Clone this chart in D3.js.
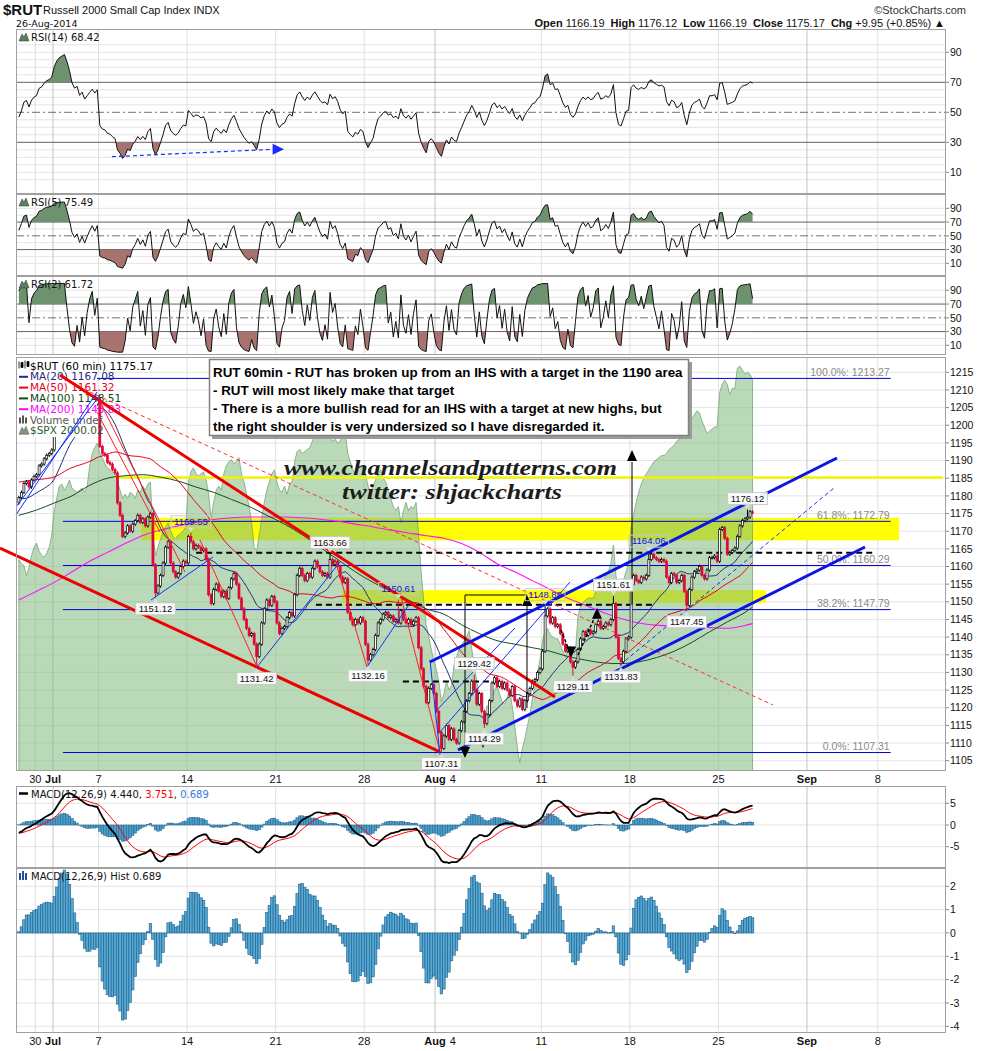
<!DOCTYPE html>
<html><head><meta charset="utf-8">
<script src="https://cdn.jsdelivr.net/npm/d3@7"></script>
<style>body{margin:0;background:#fff}svg{display:block}</style>
</head><body>
<svg id="c" width="990" height="1051"></svg>
<script>
// ---------------- DATA ----------------
// hourly closes before the visible window (Jun 18 - Jun 26), used only to warm up indicators
const priorClose = [
1176,1177.5,1178,1177,1179,1182,1183,
1185,1186,1185.5,1187,1186,1187.5,1188,
1188.5,1189,1190,1189.5,1190,1190.5,1191,
1192,1191.5,1193,1192,1191,1190.5,1191,
1190,1188,1186,1184,1181,1178,1177,
1176,1178,1179.5,1181,1182.5,1181,1183,
1180,1177.5,1176,1175.5,1177,1178,1179.5];
const rutOpen0 = 1178;
// RUT 60-min closes, Jun 27 - Aug 26 2014
const rutClose = [
1179.5,1181,1183.5,1184,1182.5,1184.5,1185.5,
1186,1188.5,1189,1190.5,1191.5,1192,1193,
1199,1204,1208,1210,1212.5,1211,1209,
1206,1204.5,1205.5,1203,1204.5,1202.5,1204,
1205.5,1207,1206,1207.5,
1194,1192,1191.5,1189.5,1189,1187.5,1186.5,
1178,1174.5,1168.5,1169.5,1171.5,1170,1172,
1173,1174.5,1172.5,1173.5,1171.5,1174,1175,
1160.5,1152.5,1154.5,1157.5,1161,1165.5,1167,
1161,1158.5,1157,1158,1160,1161.5,1161,
1168.5,1167,1165,1166,1165.5,1164.5,1165,
1162,1152,1149.5,1153.5,1155,1153,1151.5,
1153,1151,1154,1156.5,1158,1155,1151,
1148,1145,1142.5,1140.5,1141,1138,1134.5,
1138,1144,1148,1150.5,1149,1151.5,1150,
1144,1141,1142.5,1143,1145.5,1147,1146,
1152,1157.5,1159.5,1157.5,1156,1158,1157,
1159.5,1161.5,1160,1158.5,1157.5,1158,1157,
1162,1160.5,1161.5,1160,1157,1155.5,1156.5,
1147,1145,1143.5,1145,1144,1145.5,1144.5,
1138,1133.5,1135,1136.5,1140.5,1144,1145,
1146.5,1147,1145.5,1146,1144.5,1145,1144,
1147.5,1145,1144,1145,1143.5,1144.5,1145.5,
1137,1131,1126,1121.5,1125.5,1126.5,1124,
1119,1113,1108.5,1112,1115,1111,1114,
1111,1110,1113.5,1116,1119,1122,1124,
1127.5,1125,1121,1124,1119,1115.5,1118,
1122,1127,1128.5,1126,1127.5,1125.5,1127,
1125,1123.5,1126,1122,1120.5,1122.5,1119.5,
1122,1124,1125.5,1127.5,1128,1130,1131,
1136,1146,1148,1144,1145.5,1143,1143.5,
1141,1138,1136,1137,1133,1131.5,1133,
1136.5,1139.5,1141.5,1140.5,1142,1141,1141.5,
1143.5,1144.5,1142.5,1143,1144,1143.5,1145,
1149.5,1140,1134,1133,1136,1139.5,1140,
1155,1157.5,1156,1155.5,1157,1156.5,1157.5,
1162,1163.5,1162.5,1162,1161.5,1162,1161.5,
1157,1155.5,1158,1157.5,1155.5,1156,1157.5,
1153,1149,1153.5,1157,1158.5,1159,1160,
1157.5,1156.5,1159,1162.5,1162.5,1163,1161.5,
1170.5,1171,1168,1163.5,1164,1164.5,1165.22,
1168.5,1171.5,1173,1173.5,1174,1175.5,1175.17];
// $SPX overlay (60-min closes)
const spxClose = [
1956,1955,1954.5,1952,1954,1957,1959,
1960,1958,1957,1956.5,1957.5,1959,1962,
1968,1971,1974,1974.5,1973,1974,1975.5,
1973.5,1973,1972.5,1973,1973.5,1972.5,1974,
1979,1982,1983.5,1984.5,
1982,1981,1979.5,1978.5,1978,1977.5,1977,
1975,1973,1971,1972,1971,1972.5,1972,
1971,1973,1972.5,1974,1973,1974.5,1975,
1962,1957,1959,1961,1963,1964,1965,
1963,1961.5,1961,1962,1962.5,1963,1964,
1975,1977.5,1978.5,1977,1976.5,1977,1977.5,
1975.5,1972,1966,1970,1973,1974,1973,
1977,1979,1980,1980.5,1979.5,1980,1981,
1977,1975,1972,1969,1965,1959,1958,
1962,1966,1970,1973,1975,1977,1978,
1975,1973,1972.5,1974,1972,1974.5,1975,
1980,1982.5,1983,1982,1982.5,1983,1983.5,
1985,1986.5,1986,1985.5,1986,1987,1987.5,
1986,1985,1985.5,1984.5,1985,1986.5,1987.5,
1982,1980,1978,1977,1979,1978.5,1978.5,
1977,1974,1972.5,1974,1975.5,1977,1978,
1976,1975,1973,1971,1969,1968,1969,
1965,1968,1970,1968,1969,1968.5,1970,
1962,1953,1946,1940,1937,1934,1931,
1929,1926,1921,1923,1926,1924,1925,
1930,1932,1934,1935,1936,1937,1938.5,
1934,1930,1926,1922,1918,1916,1920,
1920,1922,1924,1925,1923,1921,1920.5,
1922,1924,1920,1915,1910,1906,1909.5,
1912,1915,1918,1922,1925,1928,1931.5,
1936,1938.5,1939,1937.5,1937,1936.5,1936.5,
1935,1933.5,1932,1934,1933,1932.5,1933.5,
1942,1944.5,1945.5,1946,1946.5,1946.5,1946.5,
1948,1949.5,1950.5,1951,1952,1953,1955,
1959.5,1952,1948.5,1949,1951,1953,1955,
1964,1967,1970,1972.5,1974.5,1976,1977,
1978,1979,1980,1980.5,1981,1981.5,1981.5,
1982,1983,1983.5,1984,1985,1985.5,1986,
1987,1988,1989.5,1990.5,1991.5,1992.5,1992,
1990,1988.5,1987,1987.5,1988,1988.5,1988.5,
1997,1999,2000,1999,1996.5,1998,1998,
2003,2003.5,2002.5,2001.5,2002,2001.5,2000];
// MA(100) and MA(200), [bar, value]
const ma100Samples = [[0,1174.5],[7,1176],[14,1178],[21,1180],[28,1183],[35,1185],[42,1185.7],[49,1186],[56,1185.3],[63,1184.2],[70,1182.5],[77,1181],[84,1179],[91,1177],[98,1174.5],[105,1172],[112,1169],[119,1165.5],[126,1162],[133,1158.5],[140,1155.5],[147,1153],[154,1150.5],[161,1148],[168,1146.5],[175,1143.5],[182,1141],[189,1139],[196,1138],[203,1137],[210,1136],[217,1134.5],[224,1133.5],[231,1132.7],[238,1132.5],[245,1133],[252,1134.2],[259,1136],[266,1138.5],[273,1141.5],[280,1144.3],[287,1147],[290,1148.51]];
const ma200Samples = [[0,1150.5],[7,1153],[14,1155.5],[21,1158.5],[28,1161.5],[35,1164],[42,1166.5],[49,1168.8],[56,1170.3],[63,1171.5],[70,1172.5],[77,1173.3],[84,1173.8],[91,1174],[98,1174],[105,1174],[112,1173.8],[119,1173.4],[126,1172.8],[133,1172],[140,1171.2],[147,1170.3],[154,1169.5],[161,1168.7],[168,1168],[175,1166.5],[182,1164],[189,1160.8],[196,1158.5],[203,1156],[210,1153.5],[217,1151],[224,1149],[231,1147],[238,1145.3],[245,1144],[252,1143.4],[259,1143.2],[266,1143],[273,1142.7],[280,1142.5],[287,1143.3],[290,1143.83]];
// labelled pivots
const pivots = [
 {bar:68,p:1169.55,s:"H",blue:1},{bar:54,p:1151.12,s:"L"},{bar:123,p:1163.66,s:"H"},{bar:94,p:1131.42,s:"L"},
 {bar:150,p:1150.61,s:"H",blue:1},{bar:138,p:1132.16,s:"L"},{bar:208,p:1148.89,s:"H",blue:1},{bar:180,p:1129.42,s:"H"},
 {bar:167,p:1107.31,s:"L"},{bar:184,p:1114.29,s:"L"},{bar:219,p:1129.11,s:"L"},{bar:235,p:1151.61,s:"H"},
 {bar:238,p:1131.83,s:"L"},{bar:249,p:1164.06,s:"H",blue:1},{bar:264,p:1147.45,s:"L"},{bar:288,p:1176.12,s:"H"}];
const fibPct = ["100.0%","61.8%","50.0%","38.2%","0.0%"];
const fibVal = [1213.27,1172.79,1160.29,1147.79,1107.31];
const fibSpan = [17.9,345.1];
const bands = [[48.8,348.4,1167.4,1173.8],[128.2,295.8,1149.7,1153.3]];
const yellowLine = [38.1,365.8,1185.2];
const dashLevels = [[70.6,339.3,1163.9],[117.9,251.9,1149.2],[152.3,190.7,1127.4]];
// trend lines: b1,p1,b2,p2,color,width,dash
const trendLines = [
 [16.76,1214.24,212.41,1123.04,"#ee0000",3,null],
 [-6.96,1165.24,166.96,1107.47,"#ee0000",3,null],
 [31.38,1203.76,56.28,1169.77,"#ff2020",1,null],
 [32.17,1207.16,66.17,1158.44,"#ff2020",1,null],
 [72.09,1167.51,94.62,1131.54,"#ff2020",1,null],
 [125.45,1161.84,138.10,1131.54,"#ff2020",1,null],
 [151.15,1152.5,166.96,1107.47,"#ff2020",1,null],
 [28.62,1209.42,298.58,1120.78,"#ff3030",1,"4,3"],
 [-0.63,1174.59,31.38,1209.42,"#1030ff",1,null],
 [-0.63,1176.85,32.57,1208.57,"#1030ff",1,null],
 [52.73,1150.51,77.23,1162.69,"#1030ff",1,null],
 [94.62,1131.54,127.43,1161.28,"#1030ff",1,null],
 [138.10,1131.54,154.31,1148.81,"#1030ff",1,null],
 [166.96,1113.13,218.34,1155.61,"#1030ff",1,null],
 [164.98,1118.8,196.6,1142.58,"#1030ff",1,null],
 [163.0,1133.52,166.96,1106.62,"#1030ff",1,null],
 [238.1,1132.11,322.69,1182.23,"#1030ff",1,"4,3"],
 [163.0,1132.95,323.87,1190.73,"#0a14e6",3,null],
 [174.07,1108.03,334.94,1165.52,"#0a14e6",3,null],
 [176.84,1151.93,201.34,1151.93,"#000",1,null],
 [176.84,1151.93,176.84,1108.6,"#000",1,null],
 [201.34,1119.93,201.34,1149.1,"#000",1,null],
 [242.85,1149.1,242.85,1189.6,"#000",1,null],
 [214.78,1142.02,218.74,1134.94,"#000",1.5,"3,2"],
 [221.5,1134.94,229.01,1147.12,"#000",1.5,"3,2"]];
// arrow heads: bar, tip price, direction
const arrowHeads = [[176.84,1105.77,"down"],[183.95,1108.6,"down"],[201.34,1151.93,"up"],[242.85,1193.0,"up"],[218.74,1134.2,"down"],[229.01,1148.3,"up"]];
// RSI(14) divergence arrow: bar, rsi
const rsiArrow = [[37.3,20.4],[100.8,25.3],[105.3,25.3]];
// x axis
const dateTicks = [{b:7,t:"30"},{b:14,t:"Jul",m:1},{b:32,t:"7"},{b:67,t:"14"},{b:102,t:"21"},{b:137,t:"28"},{b:165,t:"Aug",m:1},{b:172,t:"4"},{b:207,t:"11"},{b:242,t:"18"},{b:277,t:"25"},{b:312,t:"Sep",m:1},{b:340,t:"8"}];
const gridBars = [7,14,32,67,102,137,165,207,242,277,312,340];
const monthBars = [14,165,312];
const priceTicks = [1105,1110,1115,1120,1125,1130,1135,1140,1145,1150,1155,1160,1165,1170,1175,1180,1185,1190,1195,1200,1205,1210,1215];
const rsiTicks = [90,70,50,30,10];
const macdTicks = [5,0,-5];
const histTicks = [2,1,0,-1,-2,-3,-4];
const legendMain = [["$RUT (60 min) 1175.17","#000","candle"],["MA(20) 1167.08","#1f2a80","line"],["MA(50) 1161.32","#e8001c","line"],["MA(100) 1148.51","#0c4a0c","line"],["MA(200) 1143.83","#ff00ff","line"],["Volume undef","#555","bars"],["$SPX 2000.02","#2b5b2b","area"]];
const rsiLegend = ["RSI(14) 68.42","RSI(5) 75.49","RSI(2) 61.72"];
const macdLegend = ["4.440","3.751","0.689"];
const ohlc = [["Open","1166.19"],["High","1176.12"],["Low","1166.19"],["Close","1175.17"],["Chg","+9.95 (+0.85%)"]];
const noteLines = ["RUT 60min - RUT has broken up from an IHS with a target in the 1190 area","- RUT will most likely make that target","- There is a more bullish read for an IHS with a target at new highs, but","the right shoulder is very undersized so I have disregarded it."];

// ---------------- INDICATORS ----------------
const full = priorClose.concat(rutClose);
const off = priorClose.length;
function sma(arr,n,i){let s=0;for(let k=i-n+1;k<=i;k++)s+=arr[k];return s/n;}
function rsiCalc(arr,n){const out=new Array(arr.length).fill(null);let g=0,l=0;
 for(let i=1;i<=n;i++){const d=arr[i]-arr[i-1];if(d>0)g+=d;else l-=d;}g/=n;l/=n;
 out[n]=l===0?100:100-100/(1+g/l);
 for(let i=n+1;i<arr.length;i++){const d=arr[i]-arr[i-1];g=(g*(n-1)+Math.max(d,0))/n;l=(l*(n-1)+Math.max(-d,0))/n;out[i]=l===0?100:100-100/(1+g/l);}return out;}
function ema(arr,n){const k=2/(n+1);let e=arr[0];return arr.map((v,i)=>(e=i===0?v:v*k+e*(1-k)));}
const ma20 = rutClose.map((c,i)=>sma(full,20,i+off));
const ma50 = rutClose.map((c,i)=>sma(full,50,i+off));
const r14 = rsiCalc(full,14).slice(off), r5 = rsiCalc(full,5).slice(off), r2 = rsiCalc(full,2).slice(off);
const e12 = ema(full,12), e26 = ema(full,26);
const macdFull = e12.map((v,i)=>v-e26[i]);
const sigFull = ema(macdFull,9);
const macd = macdFull.slice(off), sig = sigFull.slice(off);
const hist = macd.map((v,i)=>v-sig[i]);

// ---------------- SCALES ----------------
const svg = d3.select("#c");
const L=16,R=946,BW=2.53;
const x = d3.scaleLinear().domain([0,367]).range([17.6,17.6+367*BW]);
const cx = i=>x(i)+BW/2;
const P = {r14:[29,194],r5:[194,276],r2:[276,355],main:[357,771],macd:[786,868],hist:[868,1033]};
const yP = d3.scaleLinear().domain([1105,1215]).range([760.7,372.3]);
const yS = d3.scaleLinear().domain([1906,2003.5]).range([763,366]);
const yR14 = d3.scaleLinear().domain([0,100]).range([187.3,37.3]);
const yR5 = d3.scaleLinear().domain([0,100]).range([270.2,201.45]);
const yR2 = d3.scaleLinear().domain([0,100]).range([352.2,283.45]);
const yM = d3.scaleLinear().domain([-5,5]).range([846.7,803.3]);
const yH = d3.scaleLinear().domain([-4,2]).range([1026.3,886.3]);
const SANS="'DejaVu Sans',Verdana,sans-serif", ARI="'Liberation Sans',Arial,sans-serif";

const defs = svg.append("defs");
Object.entries(P).forEach(([k,[t,b]])=>{defs.append("clipPath").attr("id","cp-"+k).append("rect").attr("x",L).attr("y",t).attr("width",R-L).attr("height",b-t);});

function panelBase(key, ticks, yS_, light){
  const [t,b]=P[key];
  const g=svg.append("g");
  light.forEach(v=>g.append("line").attr("x1",L).attr("x2",R).attr("y1",yS_(v)).attr("y2",yS_(v)).attr("stroke","#e4e4e4"));
  gridBars.forEach(bb=>g.append("line").attr("x1",x(bb)).attr("x2",x(bb)).attr("y1",t).attr("y2",b).attr("stroke",monthBars.includes(bb)?"#c4c4c4":"#e0e0e0"));
  ticks.forEach(v=>{g.append("line").attr("x1",R).attr("x2",R+3).attr("y1",yS_(v)).attr("y2",yS_(v)).attr("stroke","#888");
    g.append("text").attr("x",R+4).attr("y",yS_(v)).attr("dy","0.35em").attr("font-family",ARI).attr("font-size",10.5).attr("fill","#111").text(v);});
  return g;
}
function frame(key){const [t,b]=P[key];svg.append("rect").attr("x",L+0.5).attr("y",t+0.5).attr("width",R-L-1).attr("height",b-t-1).attr("fill","none").attr("stroke","#a0a0a0");}

// ---------------- HEADER ----------------
svg.append("text").attr("x",3).attr("y",15).attr("font-family",ARI).attr("font-weight","bold").attr("font-size",15).attr("fill","#111").text("$RUT");
svg.append("text").attr("x",43).attr("y",14).attr("font-family",ARI).attr("font-size",11).attr("fill","#111").text("Russell 2000 Small Cap Index  INDX");
svg.append("text").attr("x",966).attr("y",14).attr("text-anchor","end").attr("font-family",ARI).attr("font-size",11).attr("fill","#333").text("©StockCharts.com");
svg.append("text").attr("x",16).attr("y",27).attr("font-family",SANS).attr("font-size",9.5).attr("fill","#111").text("26-Aug-2014");
{const t=svg.append("text").attr("x",945).attr("y",27).attr("text-anchor","end").attr("font-family",ARI).attr("font-size",11).attr("fill","#111");
 ohlc.forEach(([a,b],k)=>{t.append("tspan").attr("font-weight","bold").attr("dx",k?6:0).text(a);t.append("tspan").attr("dx",3).text(b);});
 t.append("tspan").attr("dx",3).text("▲");}

// ---------------- RSI PANELS ----------------
function rsiPanel(key,data,ys,legend,light){
  const [t,b]=P[key];
  const g=panelBase(key,rsiTicks,ys,light);
  g.append("line").attr("x1",L).attr("x2",R).attr("y1",ys(70)).attr("y2",ys(70)).attr("stroke","#606060");
  g.append("line").attr("x1",L).attr("x2",R).attr("y1",ys(30)).attr("y2",ys(30)).attr("stroke","#606060");
  g.append("line").attr("x1",L).attr("x2",R).attr("y1",ys(50)).attr("y2",ys(50)).attr("stroke","#707070").attr("stroke-dasharray","8,3,2,3");
  const cA="ca-"+key, cB="cb-"+key;
  defs.append("clipPath").attr("id",cA).append("rect").attr("x",L).attr("y",t).attr("width",R-L).attr("height",ys(70)-t);
  defs.append("clipPath").attr("id",cB).append("rect").attr("x",L).attr("y",ys(30)).attr("width",R-L).attr("height",b-ys(30));
  const idx=d3.range(data.length);
  svg.append("path").attr("clip-path",`url(#${cA})`).attr("fill","#6e916e").attr("d",d3.area().x(i=>cx(i)).y0(ys(70)).y1(i=>ys(data[i]))(idx));
  svg.append("path").attr("clip-path",`url(#${cB})`).attr("fill","#a8736f").attr("d",d3.area().x(i=>cx(i)).y0(ys(30)).y1(i=>ys(data[i]))(idx));
  svg.append("path").attr("fill","none").attr("stroke","#111").attr("stroke-width",1).attr("d",d3.line().x(i=>cx(i)).y(i=>ys(data[i]))(idx));
  svg.append("path").attr("d",`M19,${t+12}l3,-7l2,3l2,-4l3,8z`).attr("fill","#5c805c").attr("stroke","#333").attr("stroke-width",0.5);
  svg.append("text").attr("x",31).attr("y",t+11.5).attr("font-family",SANS).attr("font-size",10).attr("fill","#111").text(legend);
  frame(key);
}
rsiPanel("r14",r14,yR14,rsiLegend[0],[5,10,15,20,25,35,40,45,55,60,65,75,80,85,90,95]);
rsiPanel("r5",r5,yR5,rsiLegend[1],[10,20,40,60,80,90]);
rsiPanel("r2",r2,yR2,rsiLegend[2],[10,20,40,60,80,90]);
// divergence arrow
svg.append("line").attr("x1",x(rsiArrow[0][0])).attr("y1",yR14(rsiArrow[0][1])).attr("x2",x(rsiArrow[1][0])).attr("y2",yR14(rsiArrow[1][1])).attr("stroke","#1a2cff").attr("stroke-width",1.2).attr("stroke-dasharray","4,3");
svg.append("path").attr("fill","#1a2cff").attr("d",`M${x(rsiArrow[1][0])},${yR14(rsiArrow[1][1])-5.5}L${x(rsiArrow[2][0])},${yR14(rsiArrow[2][1])}L${x(rsiArrow[1][0])},${yR14(rsiArrow[1][1])+5.5}Z`);

// ---------------- MAIN PANEL ----------------
panelBase("main",priceTicks,yP,priceTicks);
const mg=svg.append("g").attr("clip-path","url(#cp-main)");
bands.forEach(([b1,b2,p1,p2])=>mg.append("rect").attr("x",x(b1)).attr("width",x(b2)-x(b1)).attr("y",yP(p2)).attr("height",yP(p1)-yP(p2)).attr("fill","#ffff00"));
const idx=d3.range(spxClose.length);
mg.append("path").attr("fill","rgb(128,186,128)").attr("fill-opacity",0.55).attr("stroke","rgb(120,165,120)").attr("stroke-width",0.8)
  .attr("d",d3.area().x(i=>cx(i)).y0(P.main[1]).y1(i=>yS(spxClose[i]))(idx));
mg.append("line").attr("x1",x(yellowLine[0])).attr("x2",x(yellowLine[1])).attr("y1",yP(yellowLine[2])).attr("y2",yP(yellowLine[2])).attr("stroke","#f4f400").attr("stroke-width",2.5);
// fib lines
fibVal.forEach((v,k)=>{mg.append("line").attr("x1",x(fibSpan[0])).attr("x2",x(fibSpan[1])).attr("y1",yP(v)).attr("y2",yP(v)).attr("stroke","#0000dd").attr("stroke-width",1);
  mg.append("text").attr("x",x(fibSpan[1])-1).attr("y",yP(v)-2.5).attr("text-anchor","end").attr("font-family",ARI).attr("font-size",10.5).attr("fill","#8a8a8a").text(`${fibPct[k]}: ${v.toFixed(2)}`);});
// MAs
const lineS=d3.line().curve(d3.curveMonotoneX);
mg.append("path").attr("fill","none").attr("stroke","#ff10ff").attr("stroke-width",1.1).attr("d",lineS(ma200Samples.map(([b,v])=>[cx(b),yP(v)])));
mg.append("path").attr("fill","none").attr("stroke","#1c4a1c").attr("stroke-width",1).attr("d",lineS(ma100Samples.map(([b,v])=>[cx(b),yP(v)])));
mg.append("path").attr("fill","none").attr("stroke","#e8001c").attr("stroke-width",1).attr("d",d3.line()(ma50.map((v,i)=>[cx(i),yP(v)])));
mg.append("path").attr("fill","none").attr("stroke","#28307a").attr("stroke-width",1).attr("d",d3.line()(ma20.map((v,i)=>[cx(i),yP(v)])));
// dashed black levels
dashLevels.forEach(([b1,b2,p])=>mg.append("line").attr("x1",x(b1)).attr("x2",x(b2)).attr("y1",yP(p)).attr("y2",yP(p)).attr("stroke","#000").attr("stroke-width",2).attr("stroke-dasharray","6,4"));
// candles
const pv={};pivots.forEach(d=>pv[d.bar]=d);
rutClose.forEach((c,i)=>{
  const o=i===0?rutOpen0:rutClose[i-1];
  let hi=Math.max(o,c)+0.5, lo=Math.min(o,c)-0.5;
  if(pv[i]){if(pv[i].s==="H")hi=Math.max(hi,pv[i].p);else lo=Math.min(lo,pv[i].p);}
  const up=c>=o, col=up?"#000":"#dc0a36";
  mg.append("line").attr("x1",cx(i)).attr("x2",cx(i)).attr("y1",yP(hi)).attr("y2",yP(lo)).attr("stroke",col).attr("stroke-width",1);
  const y1=yP(Math.max(o,c)), h=Math.max(1,yP(Math.min(o,c))-y1);
  mg.append("rect").attr("x",cx(i)-1).attr("width",2).attr("y",y1).attr("height",h).attr("fill",up?"#fff":col).attr("stroke",col).attr("stroke-width",0.7);
});
// legend background + legend
svg.append("rect").attr("x",L+1).attr("y",P.main[0]+1).attr("width",80).attr("height",79).attr("fill","#fff");
legendMain.forEach(([t,c,ic],k)=>{
  const yy=369.5+k*10.8;
  if(ic==="line")svg.append("line").attr("x1",19).attr("x2",28).attr("y1",yy-3.5).attr("y2",yy-3.5).attr("stroke",c).attr("stroke-width",2);
  else if(ic==="candle"){svg.append("path").attr("d",`M19,${yy-8}v7M21,${yy-7}h2v5h-2zM25,${yy-9}v8M27,${yy-8}h2v5h-2z`).attr("stroke","#000").attr("fill","#000").attr("stroke-width",0.8);}
  else if(ic==="bars"){[0,3,6].forEach((d,j)=>svg.append("rect").attr("x",19+d).attr("y",yy-6-j%2*2).attr("width",2).attr("height",6+j%2*2).attr("fill","#555"));}
  else svg.append("path").attr("d",`M19,${yy}l3,-7l2,3l2,-4l3,8z`).attr("fill","#7f977f").attr("stroke","#555").attr("stroke-width",0.5);
  svg.append("text").attr("x",30).attr("y",yy).attr("font-family",SANS).attr("font-size",10.5).attr("fill",c).text(t);
});
// watermark
svg.append("text").attr("x",284).attr("y",475).attr("font-family","'Liberation Serif','DejaVu Serif',serif").attr("font-style","italic").attr("font-weight","bold").attr("font-size",21).attr("fill","#1c1c1c").attr("textLength",333).attr("lengthAdjust","spacingAndGlyphs").text("www.channelsandpatterns.com");
svg.append("text").attr("x",342).attr("y",499).attr("font-family","'Liberation Serif','DejaVu Serif',serif").attr("font-style","italic").attr("font-weight","bold").attr("font-size",21).attr("fill","#1c1c1c").attr("textLength",220).attr("lengthAdjust","spacingAndGlyphs").text("twitter: shjackcharts");
// trend lines
const ag=svg.append("g");
trendLines.forEach(([b1,p1,b2,p2,col,w,dash])=>{const l=ag.append("line").attr("x1",x(b1)).attr("y1",yP(p1)).attr("x2",x(b2)).attr("y2",yP(p2)).attr("stroke",col).attr("stroke-width",w);if(dash)l.attr("stroke-dasharray",dash);});
arrowHeads.forEach(([b,p,d])=>{const X=x(b),Y=yP(p),s=d==="up"?1:-1;ag.append("path").attr("fill","#000").attr("d",`M${X},${Y}L${X-5},${Y+s*11}L${X+5},${Y+s*11}Z`);});
// pivot labels
pivots.forEach(d=>{
  const X=cx(d.bar), py=yP(d.p), Y=d.s==="H"?py-11:py+11;
  const g=svg.append("g");
  const t=g.append("text").attr("x",X).attr("y",Y).attr("dy","0.35em").attr("text-anchor","middle").attr("font-family",ARI).attr("font-size",9.5).attr("fill",d.blue?"#1010e0":"#111").text(d.p.toFixed(2));
  const w=t.node().getComputedTextLength()+6;
  g.insert("rect","text").attr("x",X-w/2).attr("y",Y-6).attr("width",w).attr("height",12).attr("fill",d.blue?"none":"#fff").attr("fill-opacity",0.92).attr("stroke","#c8c8c8");
  const ty=d.s==="H"?Y+6:Y-6, s=d.s==="H"?1:-1;
  g.insert("path","text").attr("d",`M${X-3},${ty}L${X},${ty+s*4}L${X+3},${ty}Z`).attr("fill","#ddd");
});
// note box
svg.append("rect").attr("x",212).attr("y",362).attr("width",480).attr("height",77).attr("fill","#9a9a9a");
svg.append("rect").attr("x",209.5).attr("y",359.5).attr("width",479).attr("height",76).attr("fill","#fff").attr("stroke","#808080").attr("stroke-width",1.5);
noteLines.forEach((t,k)=>svg.append("text").attr("x",213).attr("y",377+k*18).attr("font-family",ARI).attr("font-weight","bold").attr("font-size",13.4).attr("fill","#000").text(t));
frame("main");

// ---------------- X AXES ----------------
function xLabels(yy){dateTicks.forEach(d=>svg.append("text").attr("x",x(d.b)).attr("y",yy).attr("text-anchor","middle").attr("font-family",ARI).attr("font-size",11).attr("font-weight",d.m?"bold":"normal").attr("fill","#111").text(d.t));}
xLabels(783); xLabels(1045);

// ---------------- MACD ----------------
panelBase("macd",macdTicks,yM,[5,0,-5]);
const mcg=svg.append("g").attr("clip-path","url(#cp-macd)");
hist.forEach((h,i)=>mcg.append("rect").attr("x",x(i)).attr("width",BW).attr("y",Math.min(yM(0),yM(h))).attr("height",Math.abs(yM(h)-yM(0))).attr("fill","#4c9fcb").attr("stroke","#1f5f88").attr("stroke-width",0.5));
mcg.append("path").attr("fill","none").attr("stroke","#f00").attr("stroke-width",1).attr("d",d3.line()(sig.map((v,i)=>[cx(i),yM(v)])));
mcg.append("path").attr("fill","none").attr("stroke","#000").attr("stroke-width",1.8).attr("d",d3.line()(macd.map((v,i)=>[cx(i),yM(v)])));
svg.append("line").attr("x1",19).attr("x2",28).attr("y1",793.5).attr("y2",793.5).attr("stroke","#000").attr("stroke-width",2.5);
{const t=svg.append("text").attr("x",31).attr("y",797.5).attr("font-family",SANS).attr("font-size",10).attr("fill","#111");
 t.append("tspan").text(`MACD(12,26,9) ${macdLegend[0]}, `);t.append("tspan").attr("fill","#f00").text(macdLegend[1]);t.append("tspan").text(", ");t.append("tspan").attr("fill","#3a78d8").text(macdLegend[2]);}
frame("macd");

panelBase("hist",histTicks,yH,histTicks);
const hg=svg.append("g").attr("clip-path","url(#cp-hist)");
hist.forEach((h,i)=>hg.append("rect").attr("x",x(i)).attr("width",BW).attr("y",Math.min(yH(0),yH(h))).attr("height",Math.abs(yH(h)-yH(0))).attr("fill","#55a9d4").attr("stroke","#1f5f88").attr("stroke-width",0.6));
[0,3,6].forEach((d,j)=>svg.append("rect").attr("x",19+d).attr("y",P.hist[0]+5+(j===1?-2:0)).attr("width",2).attr("height",7+(j===1?2:0)).attr("fill","#2a4a9a"));
svg.append("text").attr("x",31).attr("y",P.hist[0]+11.5).attr("font-family",SANS).attr("font-size",10).attr("fill","#111").text(`MACD(12,26,9) Hist ${macdLegend[2]}`);
frame("hist");
</script></body></html>
